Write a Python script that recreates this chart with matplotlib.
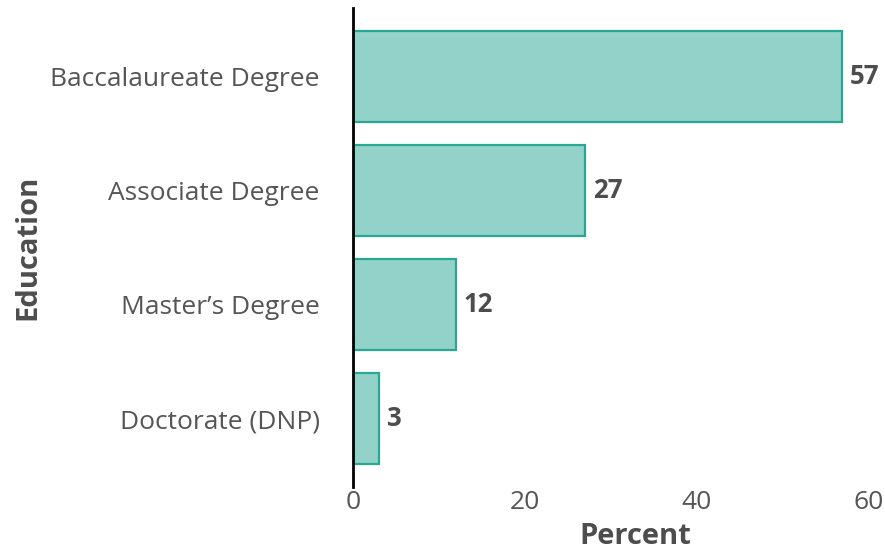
import matplotlib.pyplot as plt

# ---------------- data ----------------
categories = ["Baccalaureate Degree", "Associate Degree", "Master\u2019s Degree", "Doctorate (DNP)"]
percents = [57, 27, 12, 3]
x_ticks = [0, 20, 40, 60]

plt.rcParams['font.family'] = ['Open Sans', 'DejaVu Sans']
text_col = '#4d4d4d'

fig = plt.figure(figsize=(8.85, 5.5), dpi=100)
ax = fig.add_axes([0.399, 0.1145, 0.582, 0.871])

ypos = list(range(len(categories)))
ax.barh(ypos, percents, height=0.8, color='#93d2c8', edgecolor='#26a895', linewidth=1.6)

for y, v in zip(ypos, percents):
    ax.text(v + 0.9, y, f'{v}', va='center', ha='left', fontsize=18.5,
            fontweight='bold', color=text_col)

ax.set_ylim(len(categories) - 0.4, -0.6)
ax.set_xlim(0, 60)
ax.set_yticks(ypos)
ax.set_yticklabels(categories)
ax.set_xticks(x_ticks)

for s in ['top', 'right', 'bottom']:
    ax.spines[s].set_visible(False)
ax.spines['left'].set_color('black')
ax.spines['left'].set_linewidth(2)

ax.tick_params(axis='both', length=0, labelsize=19, labelcolor='#555555')
ax.tick_params(axis='y', pad=24)
ax.tick_params(axis='x', pad=2)

ax.set_xlabel('Percent', fontsize=21, fontweight='bold', color=text_col)
ax.set_ylabel('Education', fontsize=21, fontweight='bold', color=text_col)
ax.xaxis.set_label_coords(0.548, -0.072)
ax.yaxis.set_label_coords(-0.603, 0.5)

fig.savefig('out.png', dpi=100)
